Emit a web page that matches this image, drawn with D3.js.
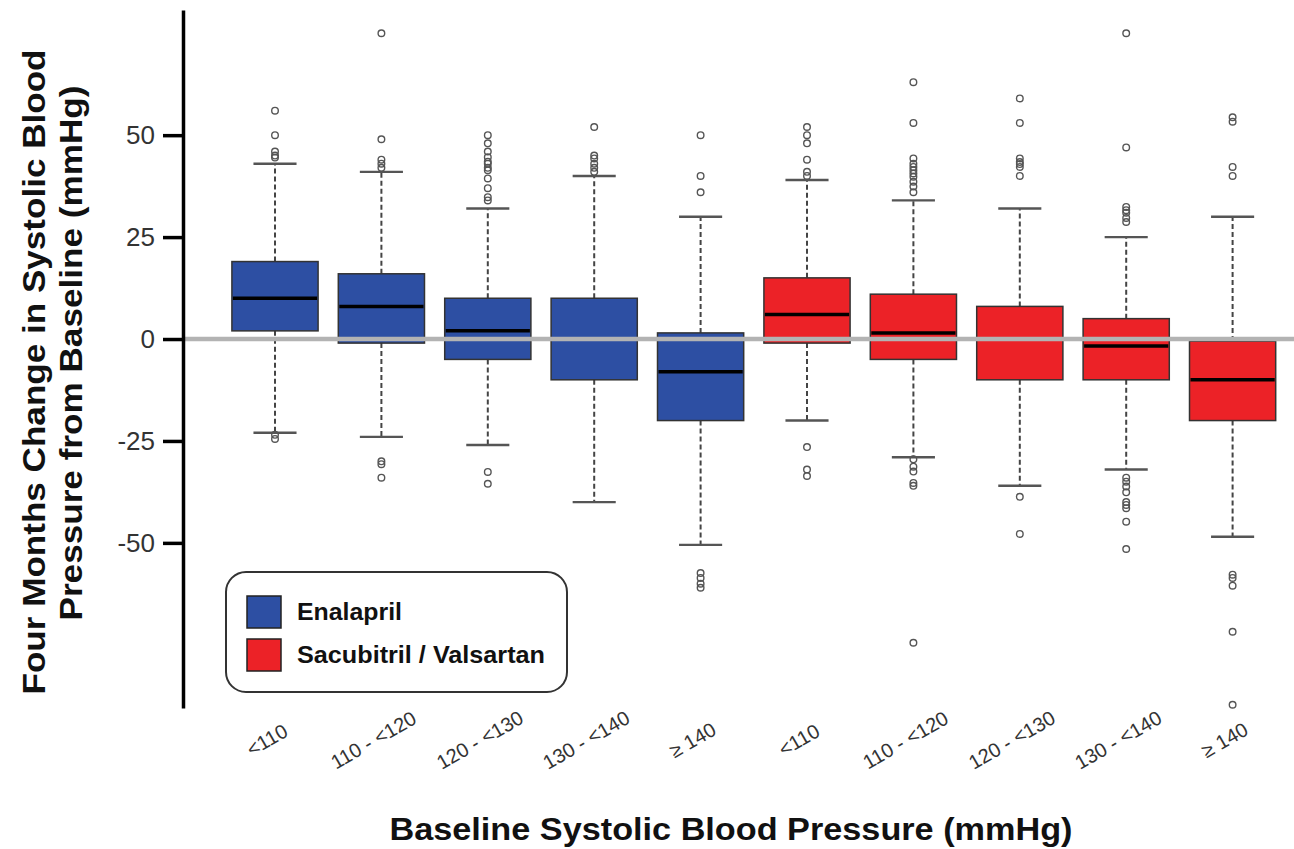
<!DOCTYPE html>
<html>
<head>
<meta charset="utf-8">
<script src="https://cdn.jsdelivr.net/npm/d3@7"></script>
<style>
  html, body { margin: 0; padding: 0; background: #fff; }
  svg { display: block; font-family: "Liberation Sans", Arial, Helvetica, sans-serif; }
</style>
</head>
<body>
<svg id="chart" width="1294" height="849"></svg>
<script>
// ---- Data ----
const categories = ["<110", "110 - <120", "120 - <130", "130 - <140", "\u2265 140"];
const groups = ["Enalapril", "Sacubitril / Valsartan"];
const groupColors = ["#2d4fa3", "#ec2227"];
const yTicks = [50, 25, 0, -25, -50];

const enalaprilQ1 = [2, -1, -5, -10, -20];
const enalaprilMedian = [10, 8, 2, 0, -8];
const enalaprilQ3 = [19, 16, 10, 10, 1.5];
const enalaprilWhiskerLow = [-23, -24, -26, -40, -50.5];
const enalaprilWhiskerHigh = [43, 41, 32, 40, 30];
const enalaprilOutliers = [
  [56, 50, 46, 45, 44.5, -23.5, -24.5],
  [75, 49, 44, 43, 42, -30, -30.7, -34],
  [50, 48, 46, 44.6, 43.5, 43, 42, 41.4, 39.4, 37, 34.8, 34, -32.6, -35.5],
  [52, 45, 44.3, 43, 42, 41],
  [50, 40, 36, -57.4, -58.6, -60, -61]
];

const sacubitrilQ1 = [-1, -5, -10, -10, -20];
const sacubitrilMedian = [6, 1.5, 0, -1.7, -10];
const sacubitrilQ3 = [15, 11, 8, 5, -0.5];
const sacubitrilWhiskerLow = [-20, -29, -36, -32, -48.5];
const sacubitrilWhiskerHigh = [39, 34, 32, 25, 30];
const sacubitrilOutliers = [
  [52, 50, 48, 44, 41, 40, -26.5, -32, -33.6],
  [63, 53, 44.3, 43, 42.2, 41.4, 40.6, 39.8, 38.6, 37.4, 36, -29.5, -31.3, -32.5, -35.3, -36, -74.5],
  [59, 53, 44.3, 43.4, 42.9, 42.2, 40, -38.7, -47.8],
  [75, 47, 32.4, 31.6, 31, 29.7, 28.7, -34, -35, -36.2, -37.6, -40, -40.7, -41.5, -44.8, -51.5],
  [54.4, 53.3, 42.2, 40, -57.8, -58.6, -60.5, -71.8, -89.7]
];

// ---- Build box table ----
const boxes = [];
categories.forEach((c, i) => boxes.push({cat: c, g: 0, q1: enalaprilQ1[i], med: enalaprilMedian[i], q3: enalaprilQ3[i], lo: enalaprilWhiskerLow[i], hi: enalaprilWhiskerHigh[i], out: enalaprilOutliers[i]}));
categories.forEach((c, i) => boxes.push({cat: c, g: 1, q1: sacubitrilQ1[i], med: sacubitrilMedian[i], q3: sacubitrilQ3[i], lo: sacubitrilWhiskerLow[i], hi: sacubitrilWhiskerHigh[i], out: sacubitrilOutliers[i]}));
boxes.forEach((b, i) => b.idx = i);

const svg = d3.select("#chart");

const x = d3.scaleBand().domain(d3.range(boxes.length)).range([221.8, 1285.8]).paddingInner(0.19).paddingOuter(0.095);
const y = d3.scaleLinear().domain([-90.5, 80.7]).range([708, 10]);

const bw = x.bandwidth();
const cx = i => x(i) + bw / 2;

// Whiskers
const g = svg.append("g");
boxes.forEach(b => {
  const c = cx(b.idx);
  g.append("line").attr("x1", c).attr("x2", c).attr("y1", y(b.q3)).attr("y2", y(b.hi))
    .attr("stroke", "#444").attr("stroke-width", 2).attr("stroke-dasharray", "5,3");
  g.append("line").attr("x1", c).attr("x2", c).attr("y1", y(b.q1)).attr("y2", y(b.lo))
    .attr("stroke", "#444").attr("stroke-width", 2).attr("stroke-dasharray", "5,3");
  g.append("line").attr("x1", c - bw / 4).attr("x2", c + bw / 4).attr("y1", y(b.hi)).attr("y2", y(b.hi))
    .attr("stroke", "#555").attr("stroke-width", 2.4);
  g.append("line").attr("x1", c - bw / 4).attr("x2", c + bw / 4).attr("y1", y(b.lo)).attr("y2", y(b.lo))
    .attr("stroke", "#555").attr("stroke-width", 2.4);
  b.out.forEach(v => {
    g.append("circle").attr("cx", c).attr("cy", y(v)).attr("r", 3.3)
      .attr("fill", "none").attr("stroke", "#555").attr("stroke-width", 1.4);
  });
});

// Boxes
svg.append("g").selectAll("rect").data(boxes).join("rect")
  .attr("x", d => x(d.idx)).attr("width", bw)
  .attr("y", d => y(d.q3)).attr("height", d => y(d.q1) - y(d.q3))
  .attr("fill", d => groupColors[d.g]).attr("stroke", "#333").attr("stroke-width", 1.5);

// Medians
svg.append("g").selectAll("line").data(boxes).join("line")
  .attr("x1", d => x(d.idx) + 1).attr("x2", d => x(d.idx) + bw - 1)
  .attr("y1", d => y(d.med)).attr("y2", d => y(d.med))
  .attr("stroke", "#000").attr("stroke-width", 3.5);

// Zero reference line
svg.append("line").attr("x1", 183).attr("x2", 1294).attr("y1", y(0)).attr("y2", y(0))
  .attr("stroke", "#b3b3b3").attr("stroke-width", 4.5);

// Y axis
const yAxis = svg.append("g").attr("transform", "translate(183,0)")
  .call(d3.axisLeft(y).tickValues(yTicks).tickSize(20).tickSizeOuter(0).tickPadding(8)
    .tickFormat(d => String(d)));
yAxis.select(".domain").attr("stroke", "#000").attr("stroke-width", 3.5);
yAxis.selectAll(".tick line").attr("stroke", "#000").attr("stroke-width", 3.5);
yAxis.selectAll(".tick text").attr("font-size", 26).attr("fill", "#333").attr("font-family", "Liberation Sans, Arial, sans-serif");

// X tick labels
svg.append("g").selectAll("text").data(boxes).join("text")
  .attr("transform", d => `translate(${cx(d.idx) - 8},${740}) rotate(-30)`)
  .attr("text-anchor", "middle").attr("dy", "0.35em")
  .attr("font-size", 20).attr("fill", "#333")
  .text(d => d.cat);

// Axis titles
svg.append("text").attr("x", 731).attr("y", 840).attr("text-anchor", "middle")
  .attr("font-size", 31).attr("font-weight", "bold").attr("fill", "#111")
  .attr("textLength", 683).attr("lengthAdjust", "spacingAndGlyphs")
  .text("Baseline Systolic Blood Pressure (mmHg)");

svg.append("text").attr("transform", "translate(45,372) rotate(-90)").attr("text-anchor", "middle")
  .attr("font-size", 31).attr("font-weight", "bold").attr("fill", "#111")
  .attr("textLength", 645).attr("lengthAdjust", "spacingAndGlyphs")
  .text("Four Months Change in Systolic Blood");
svg.append("text").attr("transform", "translate(82,353) rotate(-90)").attr("text-anchor", "middle")
  .attr("font-size", 31).attr("font-weight", "bold").attr("fill", "#111")
  .attr("textLength", 535).attr("lengthAdjust", "spacingAndGlyphs")
  .text("Pressure from Baseline (mmHg)");

// Legend
const legendTextWidths = [105, 248];
const lg = svg.append("g");
lg.append("rect").attr("x", 226).attr("y", 572).attr("width", 341).attr("height", 120).attr("rx", 20)
  .attr("fill", "#fff").attr("stroke", "#333").attr("stroke-width", 2);
groups.forEach((name, i) => {
  const yy = 596 + i * 43;
  lg.append("rect").attr("x", 247).attr("y", yy).attr("width", 34).attr("height", 32)
    .attr("fill", groupColors[i]).attr("stroke", "#222").attr("stroke-width", 1.5);
  lg.append("text").attr("x", 297).attr("y", yy + 24).attr("font-size", 24).attr("font-weight", "bold").attr("fill", "#111")
    .attr("textLength", legendTextWidths[i]).attr("lengthAdjust", "spacingAndGlyphs")
    .text(name);
});
</script>
</body>
</html>
